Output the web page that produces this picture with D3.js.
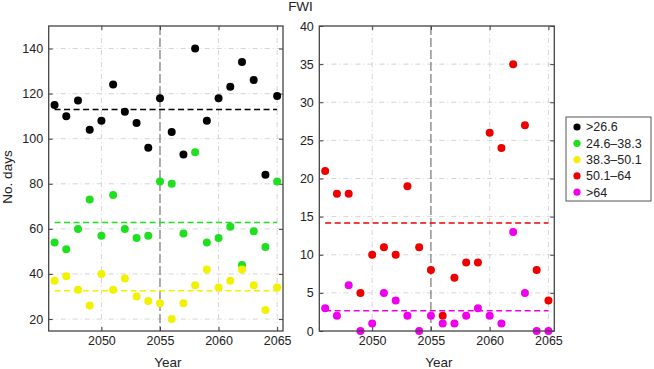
<!DOCTYPE html>
<html>
<head>
<meta charset="utf-8">
<script src="https://cdn.jsdelivr.net/npm/d3@7"></script>
<style>
  body { margin: 0; background: #fff; }
  text { font-family: "Liberation Sans", Arial, sans-serif; fill: #222; }
</style>
</head>
<body>
<div id="chart"></div>
<script>
const years = [2046, 2047, 2048, 2049, 2050, 2051, 2052, 2053, 2054, 2055,
               2056, 2057, 2058, 2059, 2060, 2061, 2062, 2063, 2064, 2065]

// left panel: No. days per FWI class
const blackDays  = [115, 110, 117, 104, 108, 124, 112, 107, 96, 118, 103, 93, 140, 108, 118, 123, 134, 126, 84, 119]
const greenDays  = [54, 51, 60, 73, 57, 75, 60, 56, 57, 81, 80, 58, 94, 54, 56, 61, 44, 59, 52, 81]
const yellowDays = [37, 39, 33, 26, 40, 33, 38, 30, 28, 27, 20, 27, 35, 42, 34, 37, 42, 35, 24, 34]
// right panel
const redDays     = [21, 18, 18, 5, 10, 11, 10, 19, 11, 8, 2, 7, 9, 9, 26, 24, 35, 27, 8, 4]
const magentaDays = [3, 2, 6, 0, 1, 5, 4, 2, 0, 2, 1, 1, 2, 3, 2, 1, 13, 5, 0, 0]

const classLabels = [">26.6", "24.6\u201338.3", "38.3\u201350.1", "50.1\u201364", ">64"]
const classColors = ["#000000", "#1ee01e", "#f2f200", "#ee0000", "#ee00ee"]
const meanLeft  = [113, 62.8, 32.6]
const meanRight = [14.15, 2.65]

const xTicks = [2050, 2055, 2060, 2065]
const yTicksLeft  = [20, 40, 60, 80, 100, 120, 140]
const yTicksRight = [0, 5, 10, 15, 20, 25, 30, 35, 40]

const width = 654
const height = 369

const svg = d3.select("#chart").append("svg")
    .attr("width", width)
    .attr("height", height)

const drawPanel = (box, yDomain, yTicks, series, means, colors) => {
    const x = d3.scaleLinear().domain([2045.5, 2065.5]).range([box.x0, box.x1])
    const y = d3.scaleLinear().domain(yDomain).range([box.y1, box.y0])
    const g = svg.append("g")

    // grid
    g.selectAll(".hgrid")
        .data(yTicks.filter(t => y(t) > box.y0 + 1 && y(t) < box.y1 - 1))
        .join("line")
        .attr("x1", box.x0).attr("x2", box.x1)
        .attr("y1", d => y(d)).attr("y2", d => y(d))
        .attr("stroke", "#cfcfcf").attr("stroke-width", 0.9)
        .attr("stroke-dasharray", "5,3,1,3")
    g.selectAll(".vgrid")
        .data(xTicks.filter(t => t !== 2055))
        .join("line")
        .attr("x1", d => x(d)).attr("x2", d => x(d))
        .attr("y1", box.y0).attr("y2", box.y1)
        .attr("stroke", "#cfcfcf").attr("stroke-width", 0.9)
        .attr("stroke-dasharray", "5,3,1,3")
    // 2055 marker line
    g.append("line")
        .attr("x1", x(2055)).attr("x2", x(2055))
        .attr("y1", box.y0).attr("y2", box.y1)
        .attr("stroke", "#6a6a6a").attr("stroke-width", 1.1)
        .attr("stroke-dasharray", "9,3")

    // axes with inward ticks, mirrored
    const axL = d3.axisLeft(y).tickValues(yTicks).tickSize(-4).tickPadding(5.5).tickFormat(d3.format("d"))
    const axR = d3.axisRight(y).tickValues(yTicks).tickSize(-4).tickFormat("")
    const axB = d3.axisBottom(x).tickValues(xTicks).tickSize(-4).tickPadding(5.5).tickFormat(d3.format("d"))
    const axT = d3.axisTop(x).tickValues(xTicks).tickSize(-4).tickFormat("")
    const styleAxis = sel => {
        sel.select(".domain").remove()
        sel.selectAll(".tick line").attr("stroke", "#444").attr("stroke-width", 1)
        sel.selectAll("text").style("font-size", "12.5px").attr("fill", "#222")
    }
    g.append("g").attr("transform", `translate(${box.x0},0)`).call(axL).call(styleAxis)
    g.append("g").attr("transform", `translate(${box.x1},0)`).call(axR).call(styleAxis)
    g.append("g").attr("transform", `translate(0,${box.y1})`).call(axB).call(styleAxis)
    g.append("g").attr("transform", `translate(0,${box.y0})`).call(axT).call(styleAxis)

    // mean lines
    means.forEach((m, i) => {
        g.append("line")
            .attr("x1", x(years[0])).attr("x2", x(years[years.length - 1]))
            .attr("y1", y(m)).attr("y2", y(m))
            .attr("stroke", colors[i])
            .attr("stroke-width", 1.5)
            .attr("stroke-dasharray", "6,3.5")
    })

    // points
    series.forEach((vals, i) => {
        g.selectAll(null)
            .data(vals)
            .join("circle")
            .attr("cx", (d, j) => x(years[j]))
            .attr("cy", d => y(d))
            .attr("r", 4)
            .attr("fill", colors[i])
    })

    // frame
    g.append("rect")
        .attr("x", box.x0).attr("y", box.y0)
        .attr("width", box.x1 - box.x0).attr("height", box.y1 - box.y0)
        .attr("fill", "none").attr("stroke", "#444").attr("stroke-width", 1.3)

    g.append("text")
        .attr("x", (box.x0 + box.x1) / 2 + 2)
        .attr("y", 367)
        .attr("text-anchor", "middle")
        .style("font-size", "13.5px")
        .text("Year")
    return { x, y }
}

drawPanel({ x0: 48.7, x1: 283, y0: 26, y1: 331 }, [14.7, 150], yTicksLeft,
    [blackDays, greenDays, yellowDays], meanLeft, classColors.slice(0, 3))
drawPanel({ x0: 319.3, x1: 554.3, y0: 26, y1: 331 }, [0, 40], yTicksRight,
    [redDays, magentaDays], meanRight, classColors.slice(3))

// y label and title
svg.append("text")
    .attr("transform", "translate(12,177) rotate(-90)")
    .attr("text-anchor", "middle")
    .style("font-size", "13.5px")
    .text("No. days")

svg.append("text")
    .attr("x", 300.5)
    .attr("y", 10.5)
    .attr("text-anchor", "middle")
    .style("font-size", "13.5px")
    .text("FWI")

// legend
const legend = svg.append("g")
legend.append("rect")
    .attr("x", 566).attr("y", 117)
    .attr("width", 85).attr("height", 84)
    .attr("fill", "#fff").attr("stroke", "#555").attr("stroke-width", 1)
legend.selectAll("circle")
    .data(classLabels)
    .join("circle")
    .attr("cx", 577)
    .attr("cy", (d, i) => 127 + i * 16.3)
    .attr("r", 3.6)
    .attr("fill", (d, i) => classColors[i])
legend.selectAll("text")
    .data(classLabels)
    .join("text")
    .attr("x", 586)
    .attr("y", (d, i) => 127 + i * 16.3 + 4.3)
    .style("font-size", "12.5px")
    .text(d => d)
</script>
</body>
</html>
